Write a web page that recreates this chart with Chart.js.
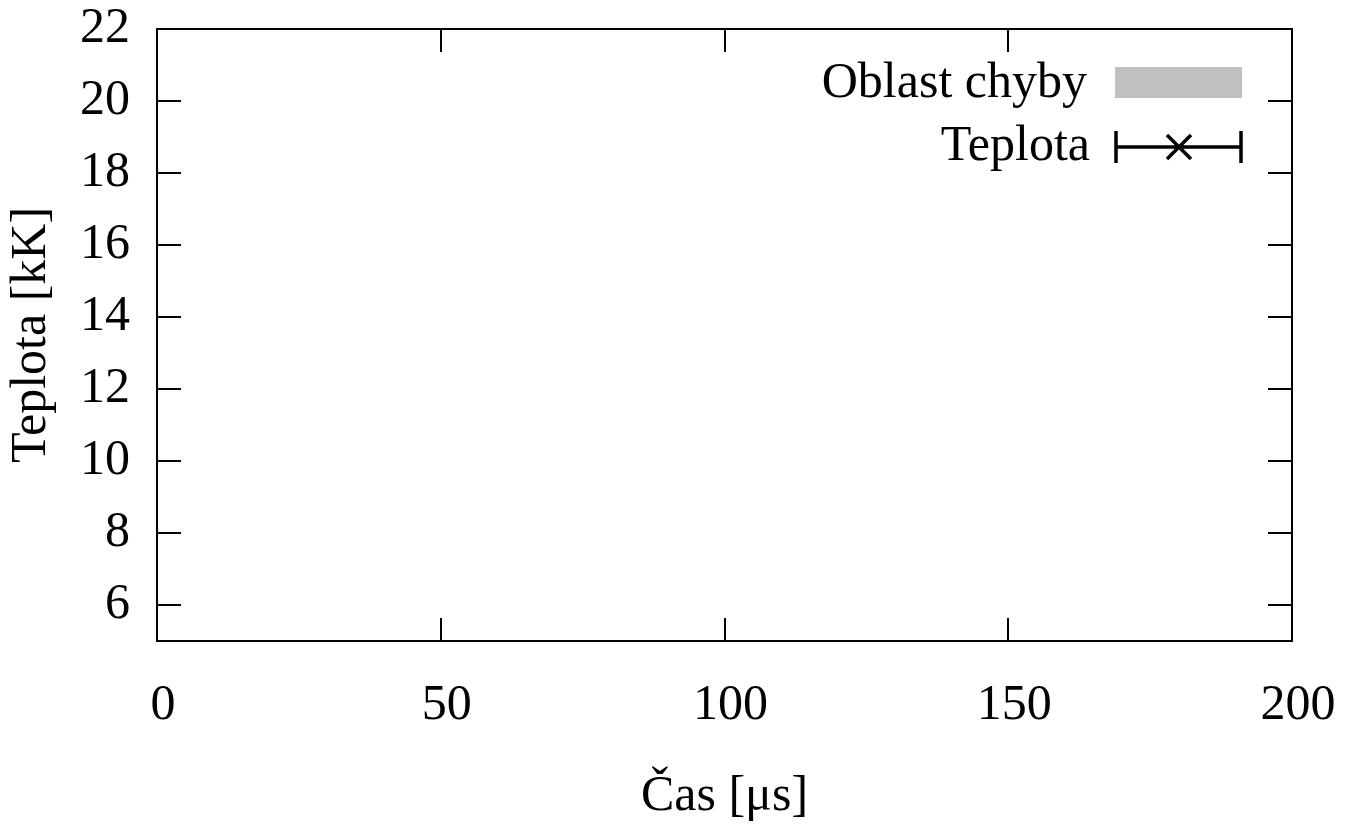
<!DOCTYPE html>
<html>
<head>
<meta charset="utf-8">
<script src="https://cdn.jsdelivr.net/npm/chart.js@4"></script>
<style>
  html, body { margin: 0; padding: 0; background: #fff; }
  #wrap { width: 1349px; height: 825px; position: relative; }
</style>
</head>
<body>
<div id="wrap"><canvas id="chart"></canvas></div>
<script>
'use strict';

// data: the plot holds no points
const timeValues = [];
const tempValues = [];
const errLow = [];
const errHigh = [];

const xTicks = [0, 50, 100, 150, 200];
const yTicks = [6, 8, 10, 12, 14, 16, 18, 20, 22];
const legendLabels = ['Oblast chyby', 'Teplota'];

const FONT = "'Liberation Serif', 'DejaVu Serif', serif";
const FSIZE = 50;

// inward ticks on all four sides plus the frame
const frameTicks = {
  id: 'frameTicks',
  afterDraw(chart) {
    const { ctx, chartArea: a } = chart;
    const xs = chart.scales.x, ys = chart.scales.y;
    ctx.save();
    ctx.strokeStyle = '#000';
    ctx.lineWidth = 2;
    ctx.strokeRect(a.left, a.top, a.right - a.left, a.bottom - a.top);
    ctx.beginPath();
    xTicks.forEach(v => {
      const px = Math.round(xs.getPixelForValue(v));
      if (px <= a.left + 1 || px >= a.right - 1) return;
      ctx.moveTo(px, a.bottom); ctx.lineTo(px, a.bottom - 23);
      ctx.moveTo(px, a.top); ctx.lineTo(px, a.top + 23);
    });
    yTicks.forEach(v => {
      const py = Math.round(ys.getPixelForValue(v));
      if (py <= a.top + 1 || py >= a.bottom - 1) return;
      ctx.moveTo(a.left, py); ctx.lineTo(a.left + 24, py);
      ctx.moveTo(a.right, py); ctx.lineTo(a.right - 24, py);
    });
    ctx.stroke();
    ctx.restore();
  }
};

// gnuplot style key in the top right corner
const keyBox = {
  id: 'keyBox',
  afterDraw(chart) {
    const { ctx } = chart;
    const ds = chart.data.datasets;
    const x0 = 1115, x1 = 1242, textRight = 1087;
    ctx.save();
    ctx.font = FSIZE + 'px ' + FONT;
    ctx.fillStyle = '#000';
    ctx.textAlign = 'right';
    ctx.textBaseline = 'middle';

    // row 1: shaded error band
    let y = 84;
    ctx.fillText(ds[0].label, textRight, y);
    ctx.fillStyle = ds[0].backgroundColor;
    ctx.fillRect(x0, 67, x1 - x0, 31);

    // row 2: errorbar with cross
    y = 147;
    ctx.fillStyle = '#000';
    ctx.fillText(ds[1].label, textRight + 3, y);
    ctx.strokeStyle = ds[1].borderColor;
    ctx.lineWidth = 3.5;
    ctx.beginPath();
    ctx.moveTo(x0 + 1, y); ctx.lineTo(x1 - 1, y);
    ctx.moveTo(x0 + 1, y - 16); ctx.lineTo(x0 + 1, y + 16);
    ctx.moveTo(x1 - 1, y - 16); ctx.lineTo(x1 - 1, y + 16);
    const cx = 1179, r = 12;
    ctx.moveTo(cx - r, y - r); ctx.lineTo(cx + r, y + r);
    ctx.moveTo(cx - r, y + r); ctx.lineTo(cx + r, y - r);
    ctx.stroke();
    ctx.restore();
  }
};

new Chart(document.getElementById('chart'), {
  type: 'line',
  data: {
    labels: timeValues,
    datasets: [
      { label: legendLabels[0], data: errHigh, backgroundColor: '#c0c0c0', borderWidth: 0, fill: '+1' },
      { label: legendLabels[1], data: tempValues, borderColor: '#000', borderWidth: 3, pointStyle: 'cross', pointRadius: 12 }
    ]
  },
  options: {
    responsive: true,
    maintainAspectRatio: false,
    animation: false,
    layout: { padding: { left: 0, top: 29, right: 57, bottom: 0 } },
    plugins: { legend: { display: false }, tooltip: { enabled: false } },
    scales: {
      x: {
        type: 'linear', min: 0, max: 200,
        afterBuildTicks: s => { s.ticks = xTicks.map(v => ({ value: v })); },
        afterFit: s => { s.height = 184; s.paddingLeft = 0; s.paddingRight = 0; },
        grid: { display: false, drawTicks: false },
        border: { display: false },
        ticks: { color: '#000', font: { family: FONT, size: FSIZE }, padding: 35, labelOffset: 6, maxRotation: 0, autoSkip: false },
        title: { display: true, text: 'Čas [μs]', color: '#000', font: { family: FONT, size: FSIZE, lineHeight: 1.2 }, padding: { top: 0, bottom: -2 } }
      },
      y: {
        type: 'linear', min: 5, max: 22,
        afterBuildTicks: s => { s.ticks = yTicks.map(v => ({ value: v })); },
        afterFit: s => { s.width = 157; s.paddingTop = 0; s.paddingBottom = 0; },
        grid: { display: false, drawTicks: false },
        border: { display: false },
        ticks: { color: '#000', font: { family: FONT, size: FSIZE }, padding: 27, autoSkip: false },
        title: { display: true, text: 'Teplota [kK]', color: '#000', font: { family: FONT, size: FSIZE, lineHeight: 1.2 }, padding: { top: 2, bottom: 0 } }
      }
    }
  },
  plugins: [frameTicks, keyBox]
});
</script>
</body>
</html>
